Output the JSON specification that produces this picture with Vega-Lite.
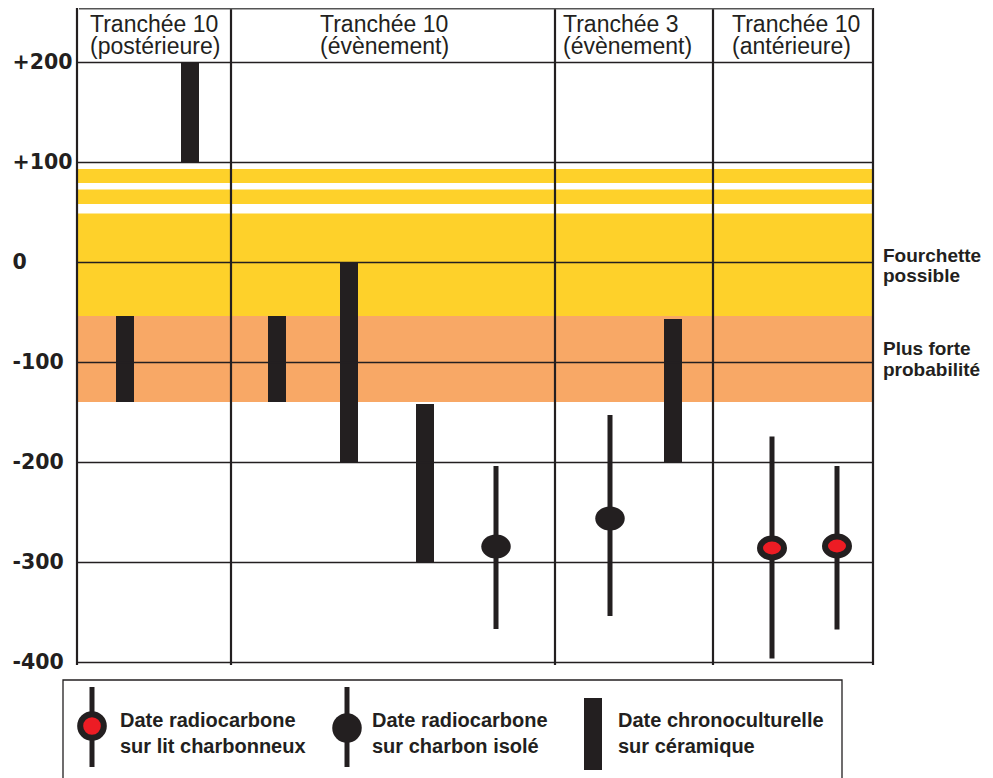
{
  "$schema": "https://vega.github.io/schema/vega-lite/v6.json",
  "autosize": "none",
  "width": 796,
  "height": 654,
  "padding": {"left": 77, "top": 8, "right": 120, "bottom": 116},
  "background": "white",
  "config": {"view": {"stroke": null}},
  "datasets": {
    "bands": [
      {"lo": 79, "hi": 93, "zone": "Fourchette possible"},
      {"lo": 58, "hi": 72.5, "zone": "Fourchette possible"},
      {"lo": -54, "hi": 48.5, "zone": "Fourchette possible"},
      {"lo": -140, "hi": -54, "zone": "Plus forte probabilité"}
    ],
    "dividers": [{"x": 0}, {"x": 154}, {"x": 478}, {"x": 636}, {"x": 796}],
    "headers": [
      {"x": 13, "y": 230.5, "text": "Tranchée 10\n(postérieure)"},
      {"x": 243, "y": 230.5, "text": "Tranchée 10\n(évènement)"},
      {"x": 486, "y": 230.5, "text": "Tranchée 3\n(évènement)"},
      {"x": 655, "y": 230.5, "text": "Tranchée 10\n(antérieure)"}
    ],
    "ceramics": [
      {"x": 48, "lo": -140, "hi": -54},
      {"x": 113, "lo": 100, "hi": 200},
      {"x": 200, "lo": -140, "hi": -54},
      {"x": 272, "lo": -200, "hi": 0},
      {"x": 348, "lo": -300, "hi": -142},
      {"x": 596, "lo": -200, "hi": -57}
    ],
    "radiocarbon": [
      {"x": 419, "lo": -367, "hi": -204, "mid": -284.5, "type": "charbon isolé"},
      {"x": 533, "lo": -354, "hi": -153, "mid": -256.5, "type": "charbon isolé"},
      {"x": 695, "lo": -396.5, "hi": -174.5, "mid": -286, "type": "lit charbonneux"},
      {"x": 760, "lo": -367.5, "hi": -204, "mid": -284, "type": "lit charbonneux"}
    ],
    "sidelabels": [
      {"x": 806, "y": 0.5, "text": "Fourchette\npossible"},
      {"x": 806, "y": -93, "text": "Plus forte\nprobabilité"}
    ],
    "legendsym": [
      {"x": 15, "lo": -505, "hi": -425, "mid": -464, "type": "lit charbonneux"},
      {"x": 270, "lo": -505, "hi": -425, "mid": -466, "type": "charbon isolé"}
    ],
    "legendbar": [{"x": 516, "lo": -508, "hi": -436}],
    "legendtext": [
      {"x": 43, "y": -465, "text": "Date radiocarbone\nsur lit charbonneux"},
      {"x": 295, "y": -465, "text": "Date radiocarbone\nsur charbon isolé"},
      {"x": 541, "y": -465, "text": "Date chronoculturelle\nsur céramique"}
    ]
  },
  "layer": [
    {
      "data": {"name": "bands"},
      "mark": {"type": "rect"},
      "encoding": {
        "x": {"datum": 0, "type": "quantitative", "scale": {"domain": [0, 796], "nice": false, "zero": false}, "axis": null},
        "x2": {"datum": 796},
        "y": {"field": "lo", "type": "quantitative", "scale": {"domain": [-400, 254], "nice": false, "zero": false},
          "axis": {
            "title": null, "domain": false, "ticks": false, "grid": true,
            "gridColor": "#231f20", "gridWidth": 1.4, "gridOpacity": 1,
            "values": [-400, -300, -200, -100, 0, 100, 200],
            "labelAlign": "left", "labelBaseline": "middle", "labelPadding": 65,
            "labelFont": "DejaVu Sans", "labelFontWeight": "bold", "labelFontSize": 20.5,
            "labelColor": "#231f20", "labelOverlap": false, "labelFlush": false,
            "labelExpr": "datum.value > 0 ? '+' + datum.value : '' + datum.value",
            "zindex": 1
          }},
        "y2": {"field": "hi"},
        "color": {"field": "zone", "type": "nominal", "scale": {"domain": ["Fourchette possible", "Plus forte probabilité"], "range": ["#FED12A", "#F8A866"]}, "legend": null}
      }
    },
    {
      "data": {"name": "dividers"},
      "mark": {"type": "rule", "color": "#231f20", "strokeWidth": 2.2},
      "encoding": {
        "x": {"field": "x", "type": "quantitative"},
        "y": {"datum": -403},
        "y2": {"datum": 254}
      }
    },
    {
      "data": {"values": [{"a": 1}]},
      "mark": {"type": "rule", "color": "#555555", "strokeWidth": 1.5},
      "encoding": {
        "x": {"datum": 2},
        "x2": {"datum": 796},
        "y": {"datum": 253.3}
      }
    },
    {
      "data": {"name": "headers"},
      "mark": {"type": "text", "align": "left", "baseline": "alphabetic", "font": "Liberation Sans", "fontSize": 23, "lineHeight": 22, "lineBreak": "\n", "color": "#231f20"},
      "encoding": {
        "x": {"field": "x", "type": "quantitative"},
        "y": {"field": "y", "type": "quantitative"},
        "text": {"field": "text", "type": "nominal"}
      }
    },
    {
      "data": {"name": "ceramics"},
      "mark": {"type": "rule", "color": "#231f20", "strokeWidth": 18, "strokeCap": "butt"},
      "encoding": {
        "x": {"field": "x", "type": "quantitative"},
        "y": {"field": "lo", "type": "quantitative"},
        "y2": {"field": "hi"}
      }
    },
    {
      "data": {"name": "radiocarbon"},
      "mark": {"type": "rule", "color": "#231f20", "strokeWidth": 5, "strokeCap": "butt"},
      "encoding": {
        "x": {"field": "x", "type": "quantitative"},
        "y": {"field": "lo", "type": "quantitative"},
        "y2": {"field": "hi"}
      }
    },
    {
      "data": {"name": "radiocarbon"},
      "transform": [{"filter": "datum.type === 'charbon isolé'"}],
      "mark": {"type": "point", "filled": true, "opacity": 1, "color": "#231f20", "size": 870, "shape": "M-1,0A1,0.82,0,1,1,1,0A1,0.82,0,1,1,-1,0Z"},
      "encoding": {
        "x": {"field": "x", "type": "quantitative"},
        "y": {"field": "mid", "type": "quantitative"}
      }
    },
    {
      "data": {"name": "radiocarbon"},
      "transform": [{"filter": "datum.type === 'lit charbonneux'"}],
      "mark": {"type": "point", "filled": true, "opacity": 1, "fill": "#ED1C24", "stroke": "#231f20", "strokeWidth": 6, "size": 576, "shape": "M-1,0A1,0.79,0,1,1,1,0A1,0.79,0,1,1,-1,0Z"},
      "encoding": {
        "x": {"field": "x", "type": "quantitative"},
        "y": {"field": "mid", "type": "quantitative"}
      }
    },
    {
      "data": {"name": "sidelabels"},
      "mark": {"type": "text", "align": "left", "baseline": "alphabetic", "font": "Liberation Sans", "fontWeight": "bold", "fontSize": 19, "lineHeight": 20.5, "lineBreak": "\n", "color": "#231f20"},
      "encoding": {
        "x": {"field": "x", "type": "quantitative"},
        "y": {"field": "y", "type": "quantitative"},
        "text": {"field": "text", "type": "nominal"}
      }
    },
    {
      "data": {"values": [{"a": 1}]},
      "mark": {"type": "rect", "filled": false, "stroke": "#231f20", "strokeWidth": 1.3},
      "encoding": {
        "x": {"datum": -14},
        "x2": {"datum": 765},
        "y": {"datum": -418},
        "y2": {"datum": -540}
      }
    },
    {
      "data": {"name": "legendsym"},
      "mark": {"type": "rule", "color": "#231f20", "strokeWidth": 5, "strokeCap": "butt"},
      "encoding": {
        "x": {"field": "x", "type": "quantitative"},
        "y": {"field": "lo", "type": "quantitative"},
        "y2": {"field": "hi"}
      }
    },
    {
      "data": {"name": "legendsym"},
      "transform": [{"filter": "datum.type === 'charbon isolé'"}],
      "mark": {"type": "point", "shape": "circle", "filled": true, "opacity": 1, "color": "#231f20", "size": 870},
      "encoding": {
        "x": {"field": "x", "type": "quantitative"},
        "y": {"field": "mid", "type": "quantitative"}
      }
    },
    {
      "data": {"name": "legendsym"},
      "transform": [{"filter": "datum.type === 'lit charbonneux'"}],
      "mark": {"type": "point", "shape": "circle", "filled": true, "opacity": 1, "fill": "#ED1C24", "stroke": "#231f20", "strokeWidth": 6, "size": 560},
      "encoding": {
        "x": {"field": "x", "type": "quantitative"},
        "y": {"field": "mid", "type": "quantitative"}
      }
    },
    {
      "data": {"name": "legendbar"},
      "mark": {"type": "rule", "color": "#231f20", "strokeWidth": 18, "strokeCap": "butt"},
      "encoding": {
        "x": {"field": "x", "type": "quantitative"},
        "y": {"field": "lo", "type": "quantitative"},
        "y2": {"field": "hi"}
      }
    },
    {
      "data": {"name": "legendtext"},
      "mark": {"type": "text", "align": "left", "baseline": "alphabetic", "font": "Liberation Sans", "fontWeight": "bold", "fontSize": 20, "lineHeight": 26, "lineBreak": "\n", "color": "#231f20"},
      "encoding": {
        "x": {"field": "x", "type": "quantitative"},
        "y": {"field": "y", "type": "quantitative"},
        "text": {"field": "text", "type": "nominal"}
      }
    }
  ]
}
